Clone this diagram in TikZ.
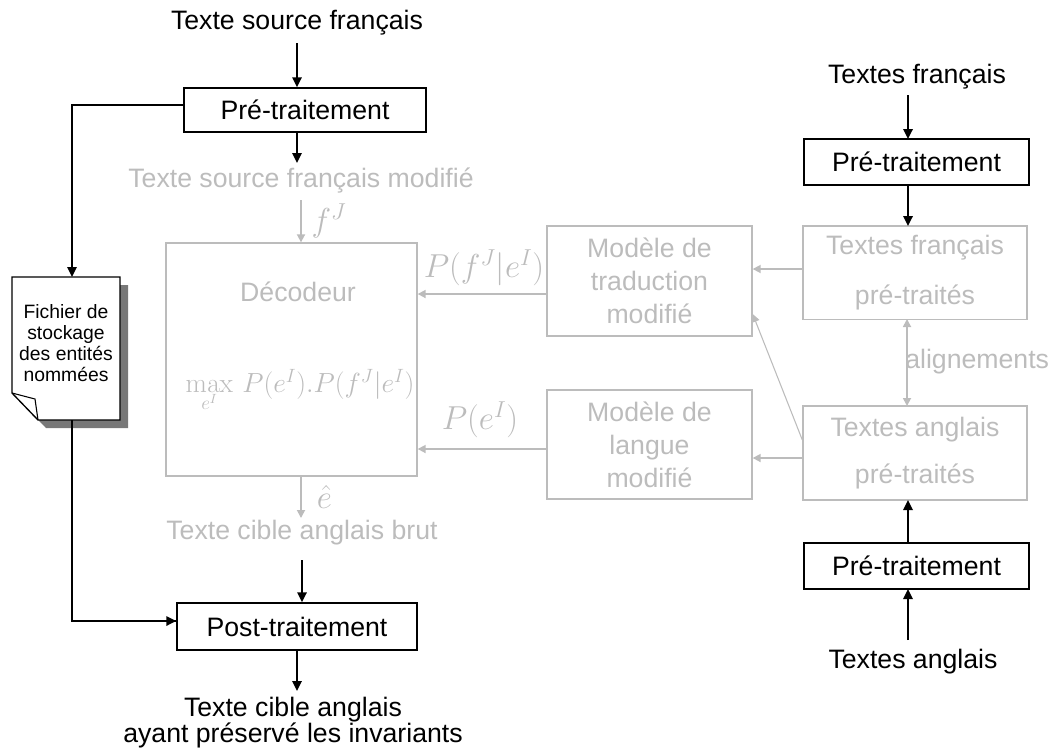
\documentclass[tikz,border=0pt]{standalone}
\usepackage[no-math]{fontspec}
\setmainfont{Liberation Sans}
\usetikzlibrary{arrows.meta}
\definecolor{lg}{RGB}{188,188,188}
\definecolor{shad}{RGB}{120,120,120}
\newcommand{\fbig}{\fontsize{20}{24}\selectfont}
\newcommand{\fsmall}{\fontsize{14.5}{15.75}\selectfont}
\newcommand{\fmath}{\fontsize{23}{27}\selectfont}
\tikzset{
  bbox/.style={draw=black, line width=1.1pt, inner sep=0pt, font=\fbig, text=black},
  gbox/.style={draw=lg, line width=1pt, inner sep=0pt, font=\fbig, text=lg, align=center},
  btext/.style={inner sep=0pt, font=\fbig, text=black},
  gtext/.style={inner sep=0pt, font=\fbig, text=lg},
  gmath/.style={inner sep=0pt, font=\fmath, text=lg},
  barrow/.style={draw=black, line width=1.6pt, -{Triangle[length=7.5pt,width=7pt]}},
  bline/.style={draw=black, line width=1.3pt},
  garrow/.style={draw=lg, line width=1.3pt, -{Triangle[length=6pt,width=6pt]}},
  gthin/.style={draw=lg, line width=0.8pt, -{Triangle[length=6pt,width=6pt]}},
  gdouble/.style={draw=lg, line width=1.3pt, {Triangle[length=6pt,width=6pt]}-{Triangle[length=6pt,width=6pt]}},
}
\begin{document}
\begin{tikzpicture}[x=0.75pt,y=-0.75pt]
\useasboundingbox (0,0) rectangle (1055,751);
% left column
\node[btext] (src) at (297,23) {Texte source français};
\node[bbox, minimum width=181.5pt, minimum height=33pt] (pre1) at (305,110) {Pré-traitement};
\node[gtext] (srcmod) at (301,180) {Texte source français modifié};
\node[draw=lg, line width=1pt, minimum width=188.25pt, minimum height=174.75pt, inner sep=0pt] (dec) at (291.5,359.5) {};
\node[gtext] (dect) at (298,292) {Décodeur};
\node[gtext, font=\fontsize{20}{24}\selectfont] (decf) at (300,390) {$\max\limits_{e^I}\, P(e^I).P(f^J\big|e^I)$};
\node[gtext] (tcb) at (302,533) {Texte cible anglais brut};
\node[bbox, minimum width=180pt, minimum height=35.25pt] (post) at (297,626.5) {Post-traitement};
\node[btext, align=center, font=\fontsize{20}{19.5}\selectfont] (final) at (293,723) {Texte cible anglais\\ayant préservé les invariants};

% file shape
\fill[shad] (20,285) -- (128,285) -- (128,428) -- (46,428) -- (20,401) -- cycle;
\filldraw[fill=white, draw=black, line width=1pt] (12,277) -- (120,277) -- (120,420) -- (38,420) -- (12,393) -- cycle;
\draw[black, line width=0.8pt] (12,393) -- (35,399) -- (38,420);
\node[inner sep=0pt, minimum width=81pt, minimum height=107pt] (file) at (66,348.5) {};
\node[inner sep=0pt, align=center, font=\fsmall] (filet) at (66,343) {Fichier de\\stockage\\des entités\\nommées};

% right column
\node[btext] (tf) at (917,77) {Textes français};
\node[bbox, minimum width=168.75pt, minimum height=34.5pt] (pre2) at (916.5,162) {Pré-traitement};
\node[gbox, minimum width=168pt, minimum height=70pt, font=\fontsize{20}{37.5}\selectfont] (TF) at (915,272.5) {Textes français\\pré-traités};
\node[gbox, minimum width=168pt, minimum height=70.5pt, font=\fontsize{20}{35.25}\selectfont] (TA) at (915,453) {Textes anglais\\pré-traités};
\node[gtext, anchor=west] (align) at (905,362) {alignements};
\node[bbox, minimum width=168.75pt, minimum height=34.5pt] (pre3) at (916.5,566) {Pré-traitement};
\node[btext] (ta) at (913,662) {Textes anglais};

% models
\node[gbox, minimum width=153.75pt, minimum height=82.5pt, font=\fontsize{20}{24.75}\selectfont] (MT) at (649.5,281) {Modèle de\\traduction\\modifié};
\node[gbox, minimum width=153.75pt, minimum height=81.75pt, font=\fontsize{20}{24.75}\selectfont] (ML) at (649.5,444.5) {Modèle de\\langue\\modifié};

% black connectors
\draw[barrow] (src.south |- 0,43) -- (src.south |- pre1.north);
\draw[barrow] (pre1.south -| src.south) -- (src.south |- 0,163);
\draw[bline] (pre1.west |- 0,105) -| (72,250);
\draw[barrow] (72,249) -- (72,277);
\draw[bline] (72,420) |- (post.west |- 0,621);
\draw[barrow] (150,621) -- (post.west |- 0,621);
\draw[barrow] (tcb.south |- 0,560) -- (tcb.south |- post.north);
\draw[barrow] (post.south) -- (post.south |- 0,691);
\draw[barrow] (908,95) -- (908,139);
\draw[barrow] (908,185) -- (908,226);
\draw[barrow] (908,543) -- (908,500);
\draw[barrow] (908,640) -- (908,589);

% gray connectors
\draw[garrow] (srcmod.south |- 0,200) -- (srcmod.south |- dec.north) node[midway, right=4pt, font=\fmath, text=lg] {$f^J$};
\draw[garrow] (dec.south -| srcmod.south) -- (srcmod.south |- 0,518) node[midway, right=8pt, font=\fmath, text=lg] {$\hat{e}$};
\draw[garrow] (MT.west |- 0,294) -- (dec.east |- 0,294);
\draw[garrow] (ML.west |- 0,449) -- (dec.east |- 0,449);
\node[gmath] (pf) at (484,268) {$P(f^J\big|e^I)$};
\node[gmath] (pe) at (480,420) {$P(e^I)$};
\draw[garrow] (TF.west |- 0,269) -- (MT.east |- 0,269);
\draw[garrow] (TA.west |- 0,458) -- (ML.east |- 0,458);
\draw[gthin] (TA.west |- 0,440) -- (MT.east |- 0,314);
\draw[gdouble] (907,319) -- (907,406);
\end{tikzpicture}
\end{document}
